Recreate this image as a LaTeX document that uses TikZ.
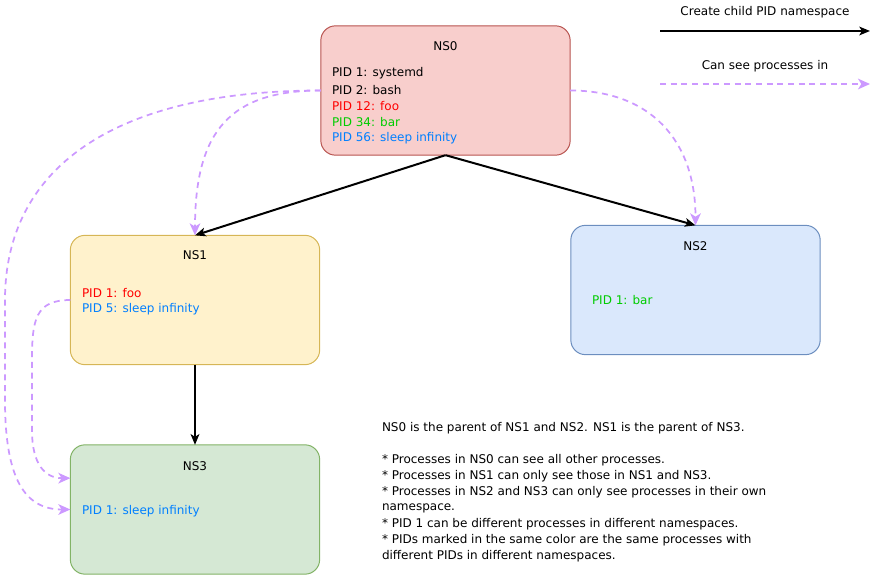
\documentclass[tikz,border=0pt]{standalone}
\usepackage{fontspec}
\setmainfont{DejaVu Sans}
\usetikzlibrary{arrows.meta}
\definecolor{ns0fill}{HTML}{F8CECC}\definecolor{ns0line}{HTML}{B85450}
\definecolor{ns1fill}{HTML}{FFF2CC}\definecolor{ns1line}{HTML}{D6B656}
\definecolor{ns2fill}{HTML}{DAE8FC}\definecolor{ns2line}{HTML}{6C8EBF}
\definecolor{ns3fill}{HTML}{D5E8D4}\definecolor{ns3line}{HTML}{82B366}
\definecolor{pred}{HTML}{FF0000}\definecolor{pgreen}{HTML}{00CC00}
\definecolor{pblue}{HTML}{007FFF}\definecolor{seeline}{HTML}{CC99FF}
\begin{document}
\begin{tikzpicture}[x=0.75pt,y=-0.75pt,
  every node/.style={font=\fontsize{9}{11}\selectfont, inner sep=0pt, outer sep=0pt},
  nsbox/.style={draw, rounded corners=11pt, line width=0.75pt, minimum width=187pt, minimum height=97pt},
  lbl/.style={anchor=west},
  child/.style={draw=black, line width=1.5pt, -{Stealth[length=8pt,width=6.5pt,inset=2pt]}},
  see/.style={draw=seeline, line width=1.3pt, dash pattern=on 4.5pt off 3.5pt, -{Stealth[length=9pt,width=8pt,inset=2.5pt]}}]
\useasboundingbox (0,0) rectangle (882,577);
% boxes
\node[nsbox, fill=ns0fill, draw=ns0line] (ns0) at (445.5,90.5) {};
\node[nsbox, fill=ns1fill, draw=ns1line] (ns1) at (195,300) {};
\node[nsbox, fill=ns2fill, draw=ns2line] (ns2) at (695.5,290) {};
\node[nsbox, fill=ns3fill, draw=ns3line] (ns3) at (195,509.5) {};
% titles and contents
\node (t0) at (445.5,46) {NS0};
\node[lbl] (a1) at (332,73) {PID 1: systemd};
\node[lbl] (a2) at (332,90) {PID 2: bash};
\node[lbl, text=pred] (a3) at (332,106) {PID 12: foo};
\node[lbl, text=pgreen] (a4) at (332,122) {PID 34: bar};
\node[lbl, text=pblue] (a5) at (332,138) {PID 56: sleep infinity};
\node (t1) at (195,255) {NS1};
\node[lbl, text=pred] (b1) at (82,293) {PID 1: foo};
\node[lbl, text=pblue] (b2) at (82,309) {PID 5: sleep infinity};
\node (t2) at (695.5,246) {NS2};
\node[lbl, text=pgreen] (c1) at (592,300) {PID 1: bar};
\node (t3) at (195,466) {NS3};
\node[lbl, text=pblue] (d1) at (82,511) {PID 1: sleep infinity};
% child arrows
\draw[child] (ns0.south) -- (ns1.north);
\draw[child] (ns0.south) -- (ns2.north);
\draw[child] (ns1.south) -- (ns3.north);
% visibility arrows
\draw[see] (ns0.west) .. controls +(-90,0) and +(0,-105) .. (ns1.north);
\draw[see] (ns0.west) .. controls +(-210,0) and +(0,-130) .. (5,300) -- (5,400) .. controls +(0,80) and +(-45,0) .. (ns3.west);
\draw[see] (ns0.east) .. controls +(80,0) and +(0,-85) .. (ns2.north);
\draw[see] (ns1.west) .. controls +(-35,0) and +(0,-40) .. (32,360) -- (32,430) .. controls +(0,35) and +(-25,0) .. ([yshift=23.5pt]ns3.west);
% legend
\node (l1) at (765,12) {Create child PID namespace};
\coordinate (l1s) at (660,31); \coordinate (l1e) at (870,31);
\draw[child] (l1s) -- (l1e);
\node (l2) at (765,66) {Can see processes in};
\coordinate (l2s) at (660,84); \coordinate (l2e) at (870,84);
\draw[see] (l2s) -- (l2e);
% notes
\node[lbl] (n1) at (382,428) {NS0 is the parent of NS1 and NS2. NS1 is the parent of NS3.};
\node[lbl] (n2) at (382,460) {* Processes in NS0 can see all other processes.};
\node[lbl] (n3) at (382,476) {* Processes in NS1 can only see those in NS1 and NS3.};
\node[lbl] (n4) at (382,492) {* Processes in NS2 and NS3 can only see processes in their own};
\node[lbl] (n5) at (382,508) {namespace.};
\node[lbl] (n6) at (382,524) {* PID 1 can be different processes in different namespaces.};
\node[lbl] (n7) at (382,540) {* PIDs marked in the same color are the same processes with};
\node[lbl] (n8) at (382,556) {different PIDs in different namespaces.};
\end{tikzpicture}
\end{document}
